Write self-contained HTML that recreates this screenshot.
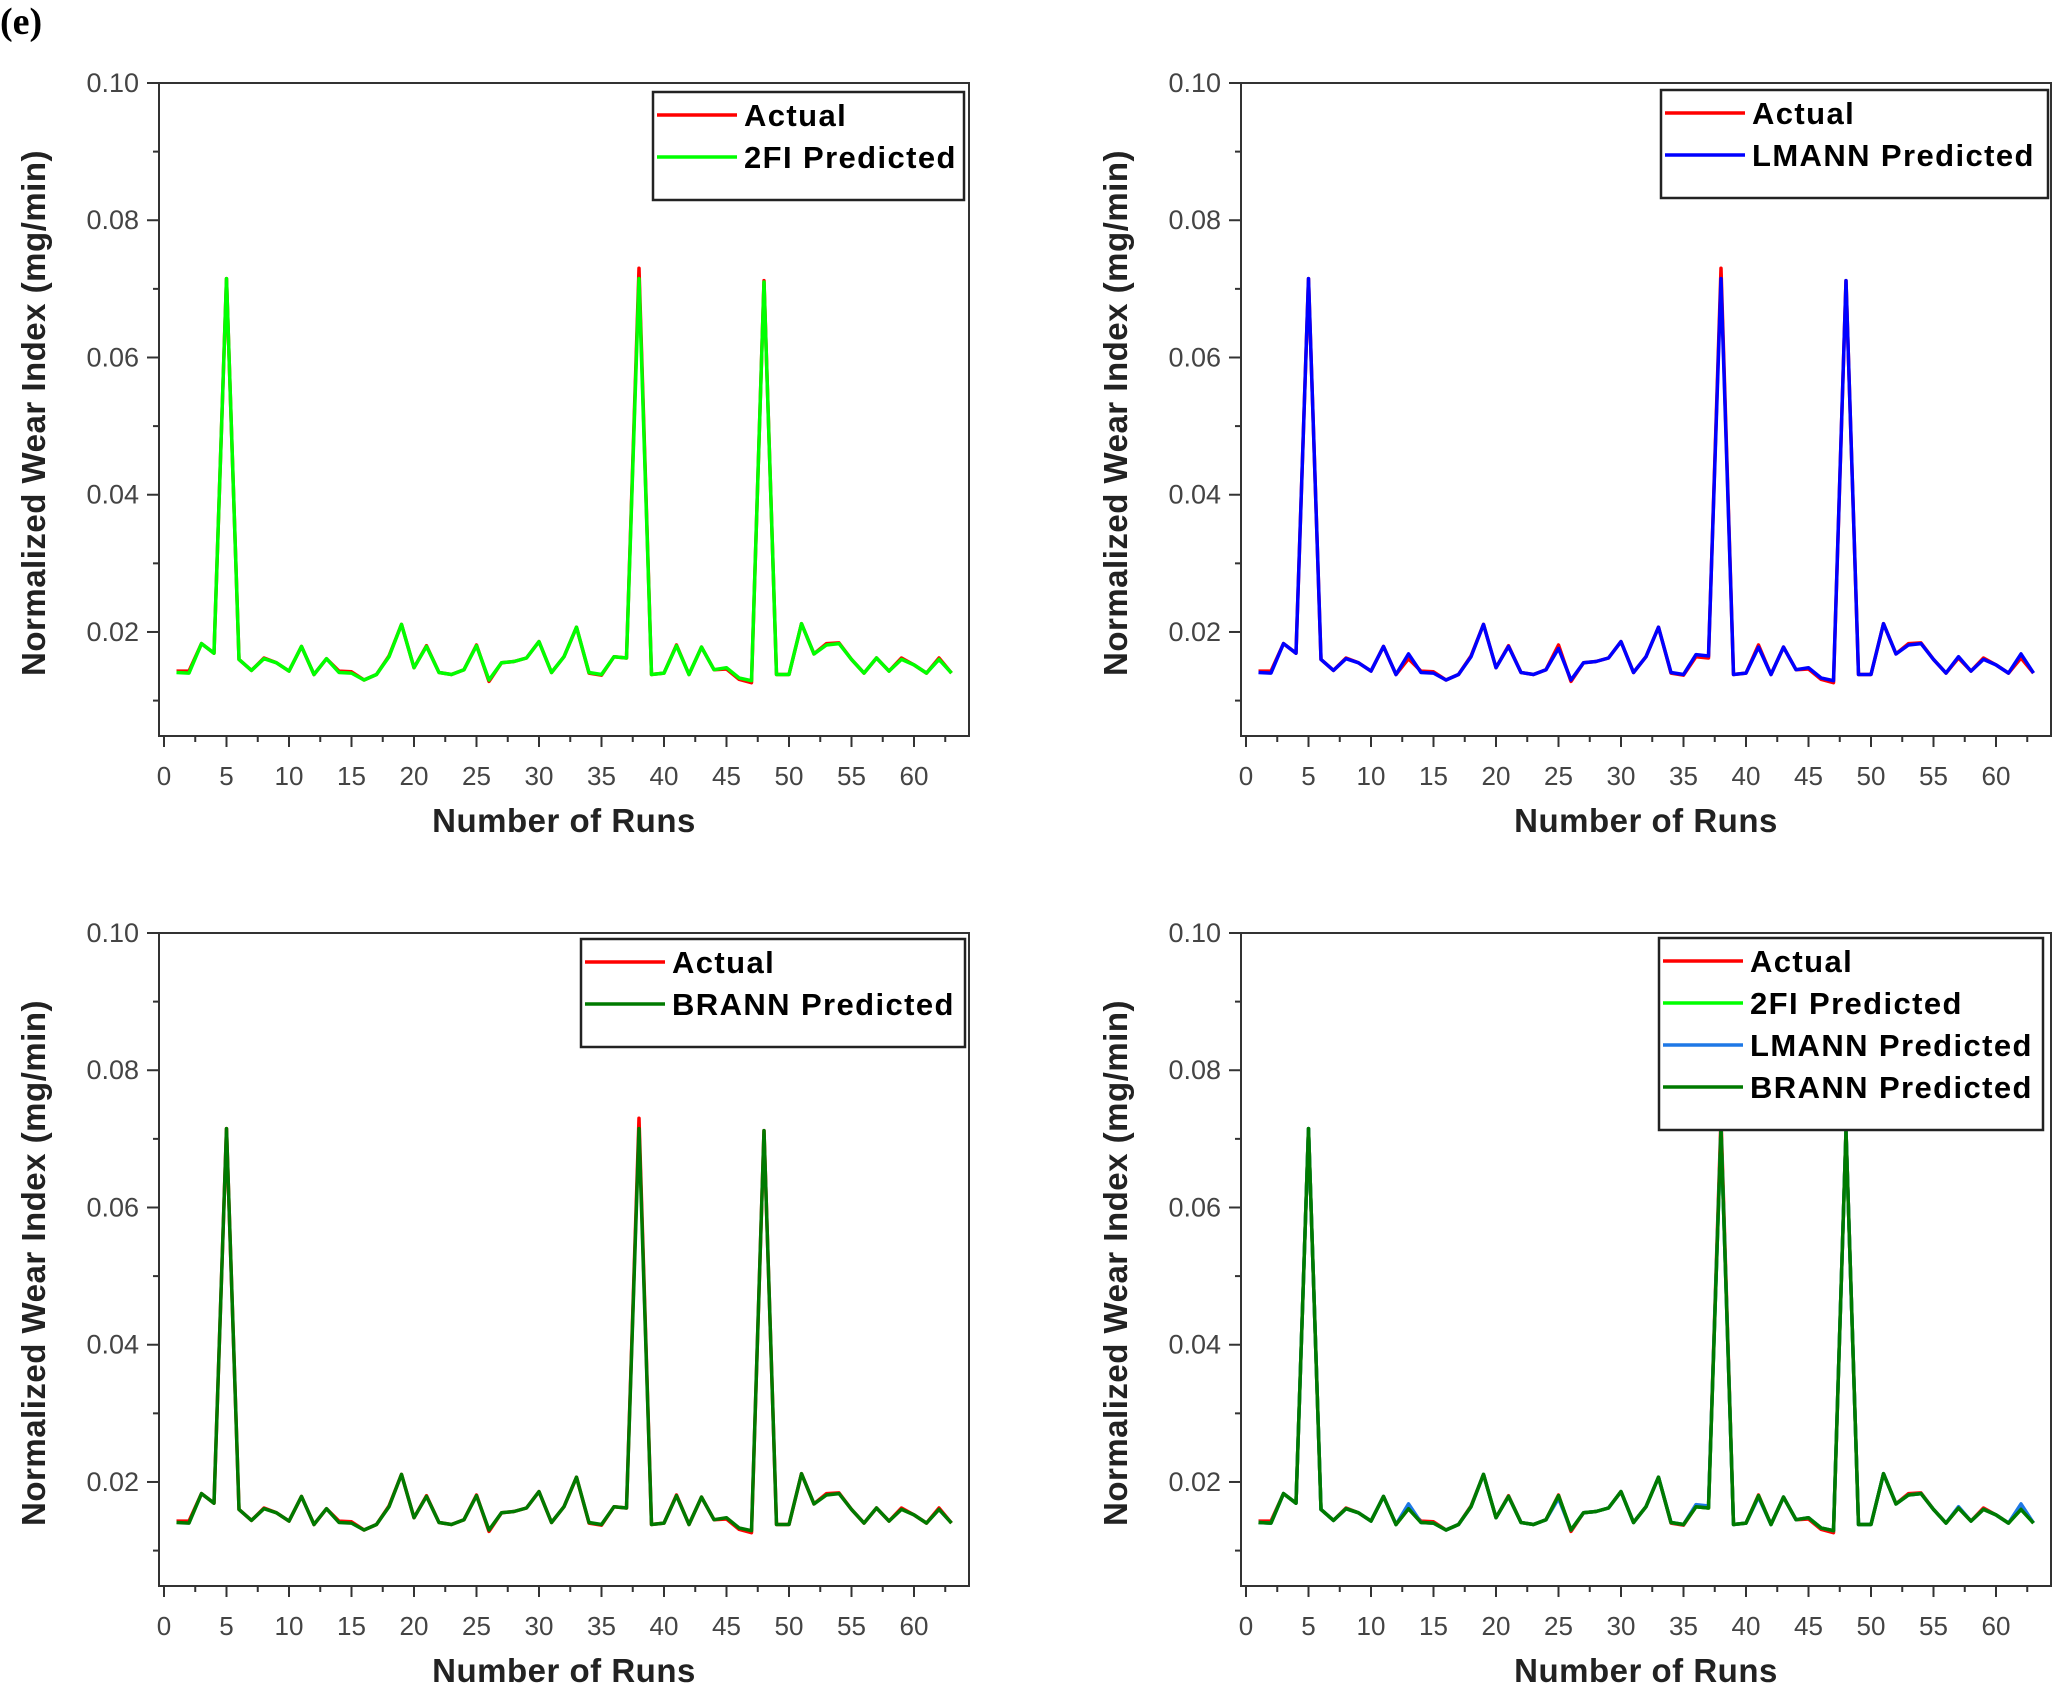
<!DOCTYPE html>
<html>
<head>
<meta charset="utf-8">
<style>
  html, body { margin: 0; padding: 0; background: #fff; }
  body { width: 2056px; height: 1683px; overflow: hidden; position: relative; }
  svg { position: absolute; left: 0; top: 0; }
  text { font-family: "Liberation Sans", Arial, sans-serif; }
</style>
</head>
<body>
<svg id="fig" width="2056" height="1683" viewBox="0 0 2056 1683" xmlns="http://www.w3.org/2000/svg">
  <text x="0" y="34" style="font-family:'Liberation Serif', serif" font-weight="bold" font-size="38" fill="#000">(e)</text>
</svg>
<script>
// ---- data ----
const runs = [];
for (let i = 1; i <= 63; i++) runs.push(i);
const actual = [0.0143,0.0143,0.0183,0.0169,0.0715,0.0160,0.0144,0.0162,0.0155,0.0143,0.0179,0.0138,0.0161,0.0143,0.0142,0.0130,0.0138,0.0165,0.0211,0.0148,0.0180,0.0141,0.0138,0.0145,0.0181,0.0128,0.0155,0.0157,0.0162,0.0186,0.0141,0.0164,0.0207,0.0140,0.0137,0.0164,0.0162,0.0730,0.0138,0.0140,0.0181,0.0138,0.0178,0.0145,0.0146,0.0131,0.0126,0.0712,0.0138,0.0138,0.0212,0.0168,0.0183,0.0184,0.0160,0.0140,0.0162,0.0143,0.0162,0.0152,0.0140,0.0162,0.0140];
const pred2FI = [0.0141,0.0140,0.0183,0.0169,0.0715,0.0160,0.0144,0.0161,0.0155,0.0143,0.0179,0.0138,0.0161,0.0141,0.0140,0.0130,0.0138,0.0164,0.0211,0.0148,0.0179,0.0141,0.0138,0.0145,0.0180,0.0130,0.0155,0.0157,0.0162,0.0186,0.0141,0.0164,0.0207,0.0141,0.0138,0.0164,0.0162,0.0715,0.0138,0.0140,0.0180,0.0138,0.0178,0.0145,0.0148,0.0133,0.0129,0.0710,0.0138,0.0138,0.0212,0.0168,0.0181,0.0183,0.0160,0.0140,0.0162,0.0143,0.0160,0.0152,0.0140,0.0160,0.0140];
const predLMANN = [0.0141,0.0140,0.0183,0.0169,0.0715,0.0160,0.0144,0.0161,0.0155,0.0143,0.0179,0.0138,0.0168,0.0141,0.0140,0.0130,0.0138,0.0164,0.0211,0.0148,0.0179,0.0141,0.0138,0.0145,0.0176,0.0130,0.0155,0.0157,0.0162,0.0186,0.0141,0.0164,0.0207,0.0141,0.0138,0.0167,0.0165,0.0715,0.0138,0.0140,0.0178,0.0138,0.0178,0.0145,0.0148,0.0133,0.0129,0.0712,0.0138,0.0138,0.0212,0.0168,0.0181,0.0183,0.0160,0.0140,0.0164,0.0143,0.0160,0.0152,0.0140,0.0168,0.0140];
const predBRANN = [0.0141,0.0140,0.0183,0.0169,0.0715,0.0160,0.0144,0.0161,0.0155,0.0143,0.0179,0.0138,0.0161,0.0141,0.0140,0.0130,0.0138,0.0164,0.0211,0.0148,0.0179,0.0141,0.0138,0.0145,0.0180,0.0130,0.0155,0.0157,0.0162,0.0186,0.0141,0.0164,0.0207,0.0141,0.0138,0.0164,0.0162,0.0715,0.0138,0.0140,0.0180,0.0138,0.0178,0.0145,0.0148,0.0133,0.0129,0.0712,0.0138,0.0138,0.0212,0.0168,0.0181,0.0183,0.0160,0.0140,0.0162,0.0143,0.0160,0.0152,0.0140,0.0160,0.0140];
const xTickLabels = ["0","5","10","15","20","25","30","35","40","45","50","55","60"];
const yTickLabels = ["0.02","0.04","0.06","0.08","0.10"];

// ---- drawing ----
const NS = "http://www.w3.org/2000/svg";
const svg = document.getElementById("fig");
const X_MIN = -0.4, X_MAX = 64.4, Y_MIN = 0.00484, Y_MAX = 0.10;
const PW = 810, PH = 653;

function mk(tag, attrs, parent) {
  const e = document.createElementNS(NS, tag);
  for (const k in attrs) e.setAttribute(k, attrs[k]);
  parent.appendChild(e);
  return e;
}

function drawPlot(ox, oy, name, seriesList, legendBox) {
  const g = mk("g", {}, svg);
  
  
  const sx = v => ox + (v - X_MIN) / (X_MAX - X_MIN) * PW;
  const sy = v => oy + PH - (v - Y_MIN) / (Y_MAX - Y_MIN) * PH;

  seriesList.forEach(s => {
    let d = "";
    runs.forEach((r, i) => { d += (i ? "L" : "M") + sx(r).toFixed(1) + "," + sy(s.values[i]).toFixed(1); });
    const p = mk("path", { d: d, fill: "none", stroke: s.color, "stroke-width": 3.5, "stroke-linejoin": "round" }, g);
    
    
  });

  const fr = mk("rect", { x: ox, y: oy, width: PW, height: PH, fill: "none", stroke: "#333", "stroke-width": 2 }, g);
  
  

  const xax = mk("g", {}, g);
  
  
  for (let v = 0; v <= 62.5; v += 2.5) {
    const major = (v % 5 === 0);
    mk("line", { x1: sx(v), x2: sx(v), y1: oy + PH, y2: oy + PH + (major ? 11 : 6), stroke: "#333", "stroke-width": 2 }, xax);
  }
  xTickLabels.forEach(l => {
    const t = mk("text", { x: sx(+l), y: oy + PH + 49, "text-anchor": "middle", "font-size": 26, fill: "#444" }, xax);
    t.textContent = l;
    
    
  });
  const xt = mk("text", { x: ox + PW / 2, y: oy + PH + 96, "text-anchor": "middle", "font-size": 33, "font-weight": "bold", fill: "#222", "letter-spacing": "0.5" }, g);
  xt.textContent = "Number of Runs";
  
  

  const yax = mk("g", {}, g);
  
  
  for (let v = 0.01; v <= 0.1001; v += 0.01) {
    const major = Math.round(v * 100) % 2 === 0;
    mk("line", { x1: ox - (major ? 12 : 6), x2: ox, y1: sy(v), y2: sy(v), stroke: "#333", "stroke-width": 2 }, yax);
  }
  yTickLabels.forEach(l => {
    const t = mk("text", { x: ox - 20, y: sy(+l) + 9, "text-anchor": "end", "font-size": 27, fill: "#444" }, yax);
    t.textContent = l;
    
    
  });
  const ytx = ox - 114, yty = oy + 330;
  const yt = mk("text", { x: ytx, y: yty, "text-anchor": "middle", "font-size": 33, "font-weight": "bold", fill: "#222", "letter-spacing": "0.5", transform: "rotate(-90 " + ytx + " " + yty + ")" }, g);
  yt.textContent = "Normalized Wear Index (mg/min)";
  
  

  const lg = mk("g", {}, g);
  
  
  const n = seriesList.length;
  mk("rect", { x: legendBox.x, y: legendBox.y, width: legendBox.w, height: 24 + n * 42, fill: "#fff", stroke: "#222", "stroke-width": 2.5 }, lg);
  seriesList.forEach((s, i) => {
    const cy = legendBox.y + 23 + i * 42;
    const ent = mk("g", {}, lg);
    
    
    mk("line", { x1: legendBox.x + 4, x2: legendBox.x + 84, y1: cy, y2: cy, stroke: s.color, "stroke-width": 3.5 }, ent);
    const t = mk("text", { x: legendBox.x + 91, y: cy + 11, "font-size": 31, "font-weight": "bold", "letter-spacing": "1.4", fill: "#000" }, ent);
    t.textContent = s.label;
  });
}

const A = { key: "actual", label: "Actual", color: "#ff0000", values: actual };
const F = { key: "2fi", label: "2FI Predicted", color: "#00ff00", values: pred2FI };
const L = { key: "lmann", label: "LMANN Predicted", color: "#0000ff", values: predLMANN };
const L2 = { key: "lmann", label: "LMANN Predicted", color: "#1e78e6", values: predLMANN };
const B = { key: "brann", label: "BRANN Predicted", color: "#007a00", values: predBRANN };

drawPlot(159, 83, "chart-2fi", [A, F], { x: 653, y: 92, w: 311 });
drawPlot(1241, 83, "chart-lmann", [A, L], { x: 1661, y: 90, w: 387 });
drawPlot(159, 933, "chart-brann", [A, B], { x: 581, y: 939, w: 384 });
drawPlot(1241, 933, "chart-combined", [A, F, L2, B], { x: 1659, y: 938, w: 384 });
</script>
</body>
</html>
